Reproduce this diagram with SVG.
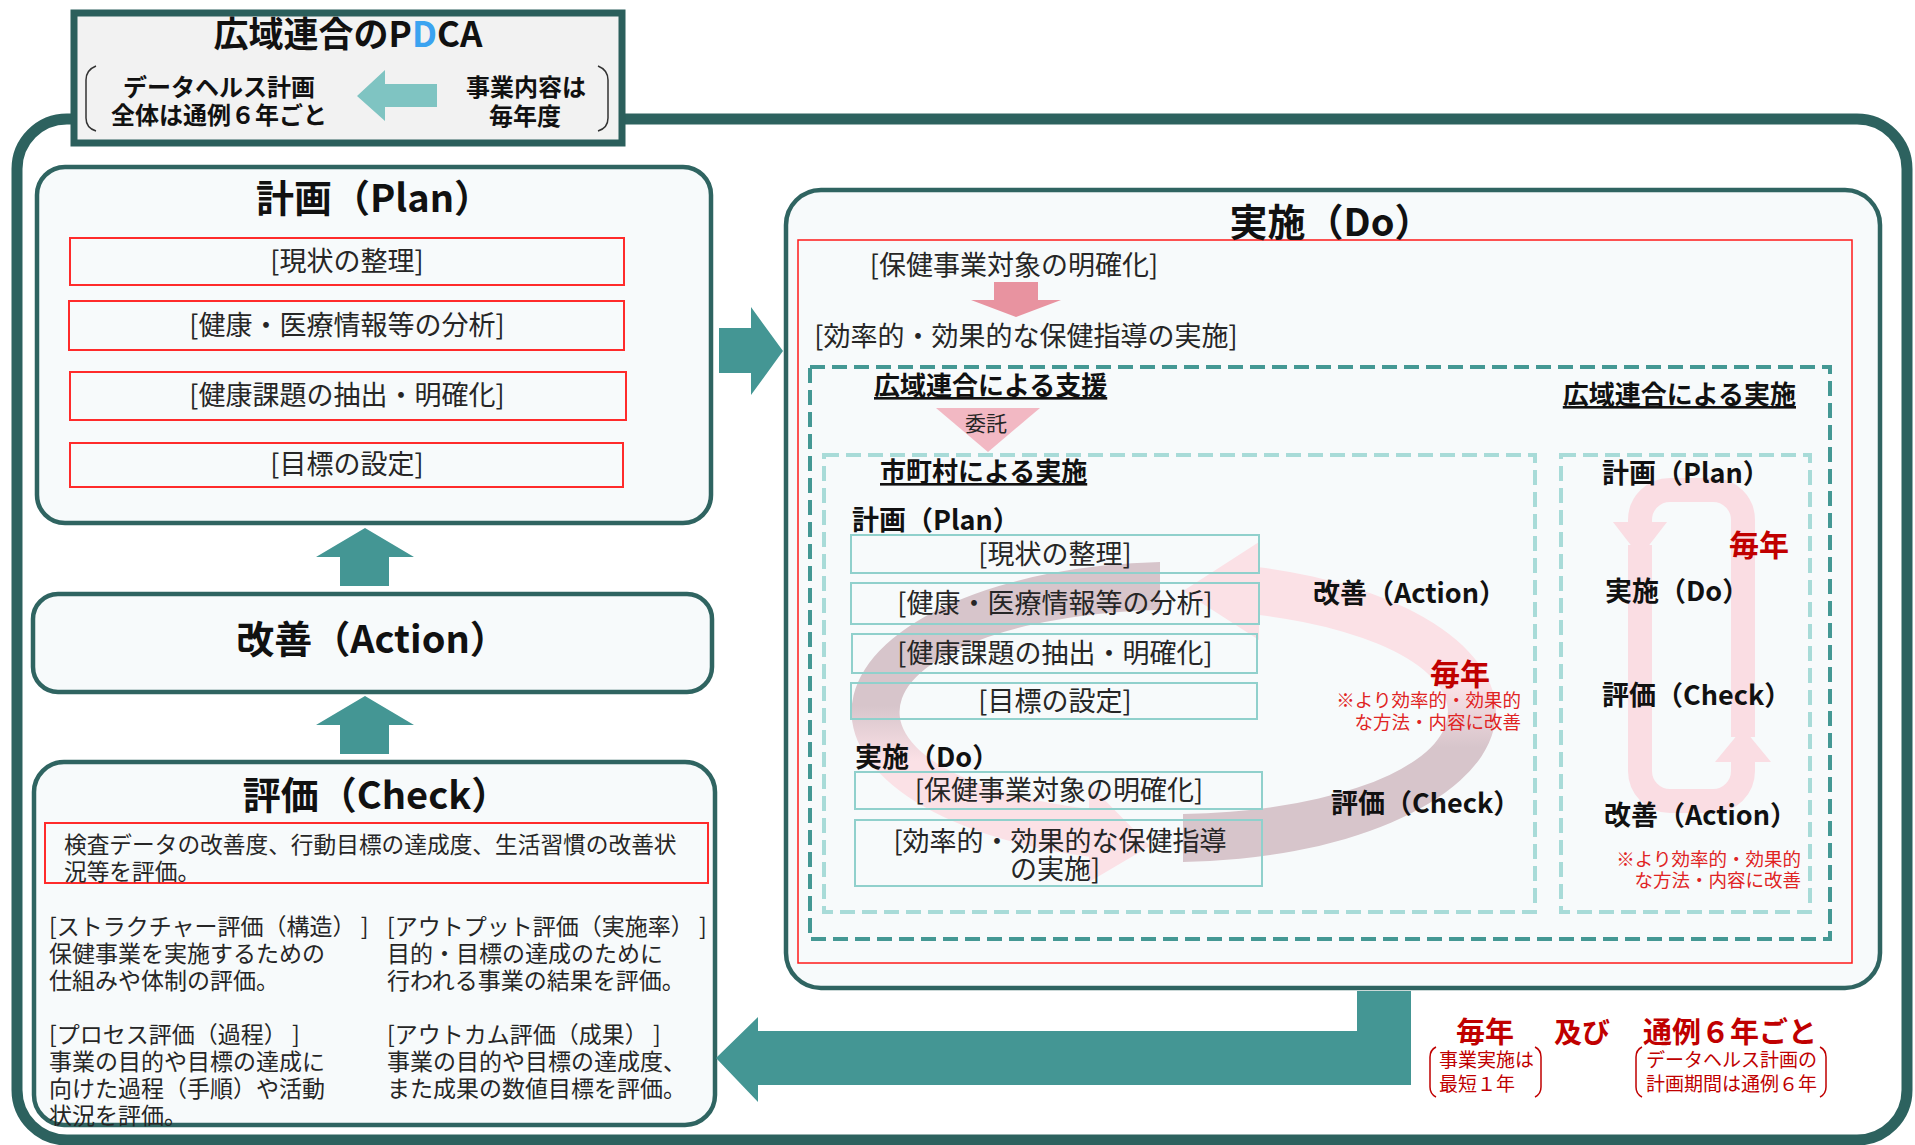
<svg xmlns="http://www.w3.org/2000/svg" width="1915" height="1145" viewBox="0 0 1915 1145">
<defs>
<style>
text { font-family: "Noto Sans CJK JP", "Noto Sans", sans-serif; }
.b { font-weight: bold; fill: #111; }
.t { fill: #262626; }
.frame { fill: none; stroke: #2d625f; stroke-width: 11; }
.box { fill: #f7fafb; stroke: #2f6461; stroke-width: 4.5; }
.redbox { fill: none; stroke: #ff2b2b; stroke-width: 2; }
.ibox { fill: none; stroke: #90d0cc; stroke-width: 2; }
.dash1 { fill: none; stroke: #449894; stroke-width: 4; stroke-dasharray: 15 7; }
.dash2 { fill: none; stroke: #a8dbd8; stroke-width: 4; stroke-dasharray: 15 7; }
.teal { fill: #449694; }
.red { fill: #c00000; font-weight: bold; }
.note { fill: #e02424; }
.nb { fill: none; stroke: #c00000; stroke-width: 1.5; }
.br { fill: none; stroke: #333; stroke-width: 1.5; }
.loop { fill: none; stroke: #fadde3; stroke-width: 24; }
.u { text-decoration: underline; }
</style>
<linearGradient id="gR" gradientUnits="userSpaceOnUse" x1="0" y1="560" x2="0" y2="862">
<stop offset="0" stop-color="#fbe1e6"/>
<stop offset="0.42" stop-color="#fbe1e6"/>
<stop offset="0.62" stop-color="#d7c5cb"/>
<stop offset="1" stop-color="#d7c5cb"/>
</linearGradient>
<linearGradient id="gL" gradientUnits="userSpaceOnUse" x1="0" y1="560" x2="0" y2="884">
<stop offset="0" stop-color="#d7c5cb"/>
<stop offset="0.45" stop-color="#d7c5cb"/>
<stop offset="0.62" stop-color="#fbe1e6"/>
<stop offset="1" stop-color="#fbe1e6"/>
</linearGradient>
</defs>
<rect width="1915" height="1145" fill="#ffffff"/>
<rect id="frame" class="frame" x="17" y="119" width="1890" height="1021" rx="50"/>

<g id="title">
<rect x="74" y="13" width="548" height="130" fill="#f2f2f2" stroke="#2b5f5c" stroke-width="7"/>
<text x="348" y="47" class="b" font-size="35" text-anchor="middle">広域連合のP<tspan fill="#3ba3f0">D</tspan>CA</text>
<path class="br" d="M96,66 Q86,70 86,80 L86,118 Q86,128 96,131"/>
<path class="br" d="M598,66 Q608,70 608,80 L608,118 Q608,128 598,131"/>
<text x="219" y="96" class="b" font-size="24" text-anchor="middle">データヘルス計画</text>
<text x="219" y="124" class="b" font-size="24" text-anchor="middle">全体は通例６年ごと</text>
<polygon points="357,96 385,70 385,84 437,84 437,107 385,107 385,121" fill="#7fc4c2"/>
<text x="526" y="96" class="b" font-size="24" text-anchor="middle">事業内容は</text>
<text x="525" y="125" class="b" font-size="24" text-anchor="middle">毎年度</text>
</g>

<g id="plan">
<rect class="box" x="37" y="167" width="674" height="356" rx="28"/>
<text x="374" y="212" class="b" font-size="38" text-anchor="middle">計画（Plan）</text>
<rect class="redbox" x="70" y="238" width="554" height="47"/>
<rect class="redbox" x="69" y="301" width="555" height="49"/>
<rect class="redbox" x="70" y="372" width="556" height="48"/>
<rect class="redbox" x="70" y="443" width="553" height="44"/>
<text x="347" y="271" class="t" font-size="27" text-anchor="middle">[現状の整理]</text>
<text x="347" y="335" class="t" font-size="27" text-anchor="middle">[健康・医療情報等の分析]</text>
<text x="347" y="405" class="t" font-size="27" text-anchor="middle">[健康課題の抽出・明確化]</text>
<text x="347" y="474" class="t" font-size="27" text-anchor="middle">[目標の設定]</text>
</g>

<g id="action">
<rect class="box" x="33" y="594" width="679" height="98" rx="25"/>
<text x="372" y="653" class="b" font-size="38" text-anchor="middle">改善（Action）</text>
</g>

<g id="check">
<rect class="box" x="34" y="762" width="681" height="363" rx="30"/>
<text x="376" y="809" class="b" font-size="38" text-anchor="middle">評価（Check）</text>
<rect class="redbox" x="45" y="823" width="663" height="60"/>
<text x="64" y="853" class="t" font-size="22.7">検査データの改善度、行動目標の達成度、生活習慣の改善状</text>
<text x="64" y="880" class="t" font-size="22.7">況等を評価。</text>
<text class="t" font-size="23">
<tspan x="49" y="935">[ストラクチャー評価（構造） ]</tspan>
<tspan x="49" y="962">保健事業を実施するための</tspan>
<tspan x="49" y="989">仕組みや体制の評価。</tspan>
<tspan x="49" y="1043">[プロセス評価（過程） ]</tspan>
<tspan x="49" y="1070">事業の目的や目標の達成に</tspan>
<tspan x="49" y="1097">向けた過程（手順）や活動</tspan>
<tspan x="49" y="1124">状況を評価。</tspan>
</text>
<text class="t" font-size="23">
<tspan x="387" y="935">[アウトプット評価（実施率） ]</tspan>
<tspan x="387" y="962">目的・目標の達成のために</tspan>
<tspan x="387" y="989">行われる事業の結果を評価。</tspan>
<tspan x="387" y="1043">[アウトカム評価（成果） ]</tspan>
<tspan x="387" y="1070">事業の目的や目標の達成度、</tspan>
<tspan x="387" y="1097">また成果の数値目標を評価。</tspan>
</text>
</g>

<g id="do">
<rect class="box" x="786" y="190" width="1094" height="798" rx="35"/>
<rect x="798" y="240" width="1054" height="723" fill="none" stroke="#ff1a1a" stroke-width="1.5"/>
<text x="1331" y="236" class="b" font-size="38" text-anchor="middle">実施（Do）</text>
<text x="1014" y="275" class="t" font-size="27" text-anchor="middle">[保健事業対象の明確化]</text>
<text x="1026" y="346" class="t" font-size="27" text-anchor="middle">[効率的・効果的な保健指導の実施]</text>
<rect class="dash1" x="810" y="367" width="1020" height="572"/>
<text x="874" y="395" class="b u" font-size="26">広域連合による支援</text>
<text x="1796" y="404" class="b u" font-size="26" text-anchor="end">広域連合による実施</text>
<rect class="dash2" x="824" y="455" width="711" height="457"/>
<rect class="dash2" x="1561" y="455" width="249" height="457"/>

<g id="cycle">
<path fill="url(#gR)" d="M1183,861.9 A322,150 0 0 0 1259,567.3 L1259,542 L1183,591 L1259,640 L1259,615 A274,102 0 0 1 1183,813.9 Z"/>
<path fill="url(#gL)" d="M1160,562.1 A322,150 0 0 0 1089,856.7 L1089,882 L1150,846 L1089,784 L1089,809 A274,102 0 0 1 1160,610.1 Z"/>
</g>
<g id="loop">
<path class="loop" d="M1743,737 V520 A30,30 0 0 0 1713,490 H1670 A30,30 0 0 0 1640,520 V523"/>
<polygon points="1613,522 1667,522 1640,557" fill="#fadde3"/>
<path class="loop" d="M1640,545 V771 A30,30 0 0 0 1670,801 H1713 A30,30 0 0 0 1743,771 V760"/>
<polygon points="1715,762 1771,762 1743,728" fill="#fadde3"/>
</g>

<text x="880" y="481" class="b u" font-size="26">市町村による実施</text>
<text x="852" y="530" class="b" font-size="27">計画（Plan）</text>
<rect class="ibox" x="851" y="535" width="408" height="38"/>
<rect class="ibox" x="851" y="583" width="408" height="41"/>
<rect class="ibox" x="852" y="634" width="405" height="39"/>
<rect class="ibox" x="851" y="683" width="406" height="36"/>
<text x="1055" y="564" class="t" font-size="27" text-anchor="middle">[現状の整理]</text>
<text x="1055" y="613" class="t" font-size="27" text-anchor="middle">[健康・医療情報等の分析]</text>
<text x="1055" y="663" class="t" font-size="27" text-anchor="middle">[健康課題の抽出・明確化]</text>
<text x="1055" y="711" class="t" font-size="27" text-anchor="middle">[目標の設定]</text>
<text x="855" y="767" class="b" font-size="27">実施（Do）</text>
<rect class="ibox" x="855" y="772" width="407" height="37"/>
<rect class="ibox" x="855" y="820" width="407" height="66"/>
<text x="1059" y="800" class="t" font-size="27" text-anchor="middle">[保健事業対象の明確化]</text>
<text x="1060" y="851" class="t" font-size="27" text-anchor="middle">[効率的・効果的な保健指導</text>
<text x="1055" y="879" class="t" font-size="27" text-anchor="middle">の実施]</text>

<text x="1313" y="603" class="b" font-size="27">改善（Action）</text>
<text x="1460" y="685" class="red" font-size="30" text-anchor="middle">毎年</text>
<text x="1521" y="707" class="note" font-size="18.5" text-anchor="end">※より効率的・効果的</text>
<text x="1521" y="729" class="note" font-size="18.5" text-anchor="end">な方法・内容に改善</text>
<text x="1331" y="813" class="b" font-size="27">評価（Check）</text>

<text x="1602" y="483" class="b" font-size="27">計画（Plan）</text>
<text x="1759" y="556" class="red" font-size="30" text-anchor="middle">毎年</text>
<text x="1605" y="601" class="b" font-size="27">実施（Do）</text>
<text x="1602" y="705" class="b" font-size="27">評価（Check）</text>
<text x="1604" y="825" class="b" font-size="27">改善（Action）</text>
<text x="1801" y="866" class="note" font-size="18.5" text-anchor="end">※より効率的・効果的</text>
<text x="1801" y="887" class="note" font-size="18.5" text-anchor="end">な方法・内容に改善</text>
</g>

<g id="connectors">
<polygon class="teal" points="719,328 751,328 751,307 783,351 751,395 751,373 719,373"/>
<polygon class="teal" points="340,586 340,557 316,557 365,528 414,557 389,557 389,586"/>
<polygon class="teal" points="340,754 340,725 316,725 365,696 414,725 389,725 389,754"/>
<polygon class="teal" points="1357,991 1411,991 1411,1085 758,1085 758,1102 716,1058 758,1017 758,1031 1357,1031"/>
<polygon points="994,282 1038,282 1038,300 1061,300 1016,317 971,300 994,300" fill="#e893a0"/>
<polygon points="936,408 1040,408 988,452" fill="#f2b8c3"/>
<text x="986" y="431" class="t" font-size="21" text-anchor="middle">委託</text>
</g>

<g id="cycle-note">
<text x="1485" y="1043" class="red" font-size="29" text-anchor="middle">毎年</text>
<text x="1582" y="1043" class="red" font-size="28" text-anchor="middle">及び</text>
<text x="1730" y="1043" class="red" font-size="29" text-anchor="middle">通例６年ごと</text>
<path class="nb" d="M1436,1047 Q1430,1050 1430,1057 V1087 Q1430,1094 1436,1097"/>
<path class="nb" d="M1535,1047 Q1541,1050 1541,1057 V1087 Q1541,1094 1535,1097"/>
<path class="nb" d="M1642,1047 Q1636,1050 1636,1057 V1087 Q1636,1094 1642,1097"/>
<path class="nb" d="M1820,1047 Q1826,1050 1826,1057 V1087 Q1826,1094 1820,1097"/>
<text x="1439" y="1067" font-size="19" fill="#c00000">事業実施は</text>
<text x="1439" y="1091" font-size="19" fill="#c00000">最短１年</text>
<text x="1646" y="1067" font-size="19" fill="#c00000">データヘルス計画の</text>
<text x="1646" y="1091" font-size="19" fill="#c00000">計画期間は通例６年</text>
</g>
</svg>
